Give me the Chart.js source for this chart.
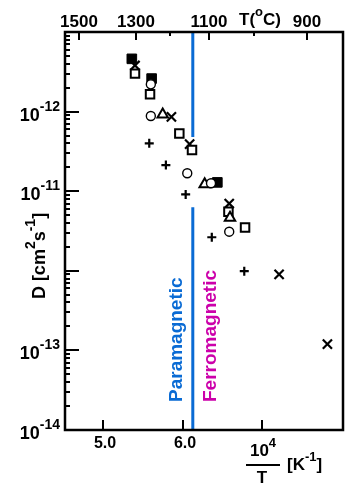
<!DOCTYPE html>
<html>
<head>
<meta charset="utf-8">
<script src="https://cdn.jsdelivr.net/npm/chart.js@4.4.0/dist/chart.umd.min.js"></script>
<style>
  body { margin: 0; background: #fff; }
  canvas { display: block; }
</style>
</head>
<body>
<canvas id="chart" width="354" height="488"></canvas>
<script>
// values: x = 10^4/T [1/K], y = D [cm^2/s]
const filledSquaresX = [5.36, 5.61, 6.44]
const filledSquaresD = [4.6e-10, 2.6e-10, 1.29e-11]
const openSquaresX = [5.40, 5.59, 5.96, 6.12, 6.58, 6.79]
const openSquaresD = [3.0e-10, 1.65e-10, 5.3e-11, 3.3e-11, 5.5e-12, 3.5e-12]
const crossesX = [5.40, 5.86, 6.09, 6.59, 7.22, 7.83]
const crossesD = [3.8e-10, 8.6e-11, 3.9e-11, 7.0e-12, 9.0e-13, 1.2e-13]
const circlesX = [5.60, 5.60, 6.06, 6.36, 6.59]
const circlesD = [2.2e-10, 8.8e-11, 1.68e-11, 1.26e-11, 3.1e-12]
const trianglesX = [5.75, 6.28, 6.60]
const trianglesD = [9.2e-11, 1.22e-11, 4.65e-12]
const plusX = [5.58, 5.79, 6.04, 6.37, 6.78]
const plusD = [4.0e-11, 2.13e-11, 9.1e-12, 2.64e-12, 9.9e-13]

// magnetic transition line, broken where the points are
const curieX = 6.13
const curieD = [1e-9, 4.8e-11, null, 6.3e-12, 1e-14]

// axes
const xMin = 4.516, xMax = 8.027
const yMin = 1e-14, yMax = 1e-9
const xTicks = [5, 6, 7]
const xTickLabels = ['5.0', '6.0', '']
const yTicks = [1e-14, 1e-13, 1e-12, 1e-11, 1e-10]
const yTickExp = ['-14', '-13', '', '-11', '-12']
const topTempsC = [1500, 1300, 1200, 1100, 1000, 900]
const topTempLabels = ['1500', '1300', '', '1100', '', '900']
const topShift = 0.95

const FONT = '"Liberation Sans", Arial, sans-serif'
const BLUE = '#0a6bd4'
const MAGENTA = '#cc00aa'

function pts(xs, ys) {
  return xs.map((v, i) => ({ x: v, y: ys[i] }))
}

// draws text pieces, some of them raised as superscripts
function richText(ctx, parts, x, y, size, align) {
  const supSize = Math.round(size * 0.78)
  let w = 0
  parts.forEach(p => {
    ctx.font = `bold ${p[1] ? supSize : size}px ${FONT}`
    w += ctx.measureText(p[0]).width
  })
  let cx = align === 'right' ? x - w : align === 'center' ? x - w / 2 : x
  ctx.textAlign = 'left'
  ctx.textBaseline = 'alphabetic'
  parts.forEach(p => {
    ctx.font = `bold ${p[1] ? supSize : size}px ${FONT}`
    ctx.fillText(p[0], cx, p[1] ? y - size * 0.55 : y)
    cx += ctx.measureText(p[0]).width
  })
}

const axesPlugin = {
  id: 'frameAxes',
  afterDatasetsDraw(chart) {
    const { ctx, chartArea: a, scales } = chart
    const xs = scales.x, ys = scales.y, ts = scales.xTop
    ctx.save()
    ctx.strokeStyle = '#000'
    ctx.fillStyle = '#000'
    ctx.lineWidth = 2

    // y ticks (inside, on the left edge)
    for (let d = -14; d < -9; d++) {
      for (let k = 2; k <= 9; k++) {
        const py = Math.round(ys.getPixelForValue(k * Math.pow(10, d)))
        ctx.beginPath(); ctx.moveTo(a.left, py); ctx.lineTo(a.left + 5, py); ctx.stroke()
      }
    }
    yTicks.forEach((v, i) => {
      const py = Math.round(ys.getPixelForValue(v))
      ctx.beginPath(); ctx.moveTo(a.left, py); ctx.lineTo(a.left + 14, py); ctx.stroke()
      if (yTickExp[i]) richText(ctx, [['10', false], [yTickExp[i], true]], a.left - 5, py + 9, 18, 'right')
    })

    // bottom ticks
    xTicks.forEach((v, i) => {
      const px = Math.round(xs.getPixelForValue(v))
      ctx.beginPath(); ctx.moveTo(px, a.bottom); ctx.lineTo(px, a.bottom - 10); ctx.stroke()
      if (xTickLabels[i]) richText(ctx, [[xTickLabels[i], false]], px + 2, a.bottom + 18, 16, 'center')
    })

    // top temperature ticks
    topTempsC.forEach((t, i) => {
      const px = Math.round(ts.getPixelForValue(1e4 / (t + 273)))
      const len = topTempLabels[i] ? 8 : 4
      ctx.beginPath(); ctx.moveTo(px, a.top); ctx.lineTo(px, a.top + len); ctx.stroke()
      if (topTempLabels[i]) richText(ctx, [[topTempLabels[i], false]], px, a.top - 5, 17, 'center')
    })
    richText(ctx, [['T(', false], ['o', true], ['C)', false]], 239, 25, 17, 'left')

    // frame
    ctx.lineWidth = 2.5
    ctx.strokeRect(a.left, a.top, a.right - a.left, a.bottom - a.top)

    // x axis title: 10^4 / T [K^-1]
    richText(ctx, [['10', false], ['4', true]], 263, 456, 17, 'center')
    ctx.lineWidth = 2
    ctx.beginPath(); ctx.moveTo(246, 465); ctx.lineTo(280, 465); ctx.stroke()
    richText(ctx, [['T', false]], 262, 483, 17, 'center')
    richText(ctx, [['[K', false], ['-1', true], [']', false]], 287, 470, 17, 'left')

    // y axis title
    ctx.save()
    ctx.translate(45, 256)
    ctx.rotate(-Math.PI / 2)
    richText(ctx, [['D [cm', false], ['2', true], ['s', false], ['-1', true], [']', false]], 0, 0, 18, 'center')
    ctx.restore()

    // region labels
    const lx = xs.getPixelForValue(curieX)
    ctx.save()
    ctx.translate(lx - 11, 402)
    ctx.rotate(-Math.PI / 2)
    ctx.fillStyle = BLUE
    richText(ctx, [['Paramagnetic', false]], 0, 0, 19, 'left')
    ctx.restore()
    ctx.save()
    ctx.translate(lx + 23, 402)
    ctx.rotate(-Math.PI / 2)
    ctx.fillStyle = MAGENTA
    richText(ctx, [['Ferromagnetic', false]], 0, 0, 19, 'left')
    ctx.restore()

    ctx.restore()
  }
}

const markers = (pointStyle, radius, fill, width) => ({
  type: 'scatter',
  pointStyle: pointStyle,
  pointRadius: radius,
  pointBorderColor: '#000',
  pointBackgroundColor: fill,
  pointBorderWidth: width,
  borderColor: '#000',
  backgroundColor: fill
})

new Chart(document.getElementById('chart'), {
  type: 'scatter',
  data: {
    datasets: [
      {
        type: 'line',
        data: curieD.map(v => ({ x: curieX, y: v })),
        borderColor: BLUE,
        borderWidth: 3,
        pointRadius: 0,
        spanGaps: false
      },
      { ...markers('circle', 4.5, '#fff', 1.4), data: pts(circlesX, circlesD) },
      { ...markers('triangle', 6, '#fff', 2), data: pts(trianglesX, trianglesD) },
      { ...markers('rect', 6, '#fff', 2), data: pts(openSquaresX, openSquaresD) },
      { ...markers('cross', 4.5, '#fff', 2.2), data: pts(plusX, plusD) },
      { ...markers('crossRot', 6.5, '#fff', 2.2), data: pts(crossesX, crossesD) },
      { ...markers('rect', 6.8, '#000', 1), data: pts(filledSquaresX, filledSquaresD) }
    ]
  },
  options: {
    responsive: false,
    animation: false,
    layout: { padding: { left: 65, top: 32, right: 11, bottom: 58 } },
    plugins: { legend: { display: false }, tooltip: { enabled: false } },
    scales: {
      x: { type: 'linear', position: 'bottom', min: xMin, max: xMax, display: false },
      xTop: { type: 'linear', position: 'top', min: xMin + topShift, max: xMax + topShift, display: false },
      y: { type: 'logarithmic', min: yMin, max: yMax, display: false }
    }
  },
  plugins: [axesPlugin]
})
</script>
</body>
</html>
